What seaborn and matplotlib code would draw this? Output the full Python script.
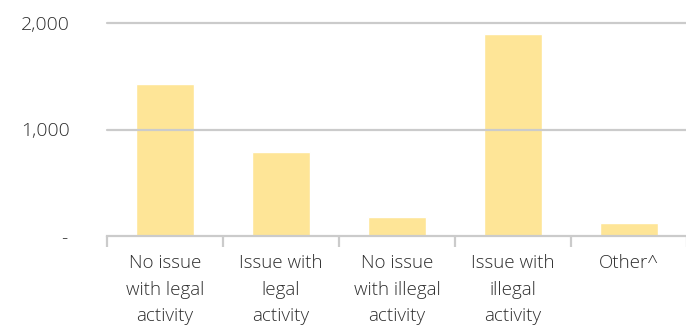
import matplotlib
matplotlib.use("Agg")
import matplotlib.pyplot as plt
import matplotlib.transforms as mtransforms
import seaborn as sns
import pandas as pd

categories = [
    "No issue\nwith legal\nactivity",
    "Issue with\nlegal\nactivity",
    "No issue\nwith illegal\nactivity",
    "Issue with\nillegal\nactivity",
    "Other^",
]
counts = [1430, 785, 182, 1900, 120]
y_ticks = [0, 1000, 2000]
y_tick_labels = ["-", "1,000", "2,000"]

bar_color = "#FEE597"
grid_color = "#CBCBCB"
text_color = "#2E2E2E"

sns.set_theme(style="white")
plt.rcParams["font.family"] = ["Open Sans", "DejaVu Sans"]
plt.rcParams["font.weight"] = 300

df = pd.DataFrame({"category": categories, "count": counts})

fig = plt.figure(figsize=(6.86, 3.27), dpi=100)
ax = fig.add_axes([107 / 686, 1 - 236 / 327, 580 / 686, 213 / 327])

sns.barplot(data=df, x="category", y="count", color=bar_color,
            saturation=1, width=0.5, ax=ax, zorder=1)

ax.set_xlim(-0.5, 4.5)
ax.set_ylim(0, 2000)

# horizontal gridlines
for v in y_ticks[1:]:
    ax.axhline(v, color=grid_color, lw=1.6, zorder=2, clip_on=False)

for s in ["top", "right", "left"]:
    ax.spines[s].set_visible(False)
ax.spines["bottom"].set_color(grid_color)
ax.spines["bottom"].set_linewidth(1.6)
ax.spines["bottom"].set_zorder(3)

ax.set_yticks(y_ticks)
ax.set_yticklabels(y_tick_labels)
ax.tick_params(axis="y", length=0, pad=27, labelsize=14, labelcolor=text_color)

# category labels centred under bars, boundary ticks between categories
ax.set_xticks(range(len(categories)))
ax.set_xticklabels(categories, linespacing=1.62)
ax.tick_params(axis="x", which="major", length=0, pad=13,
               labelsize=13.5, labelcolor=text_color)
ax.set_xticks([i - 0.5 for i in range(len(categories) + 1)], minor=True)
ax.tick_params(axis="x", which="minor", bottom=True, length=8,
               width=1.6, color=grid_color)

# zero label sits a little left of the other labels
for lbl in ax.get_yticklabels():
    if lbl.get_text() == "-":
        lbl.set_transform(lbl.get_transform() +
                          mtransforms.ScaledTranslation(-2 / 100, 0, fig.dpi_scale_trans))

ax.set_xlabel("")
ax.set_ylabel("")

fig.savefig("out.png", dpi=100)
